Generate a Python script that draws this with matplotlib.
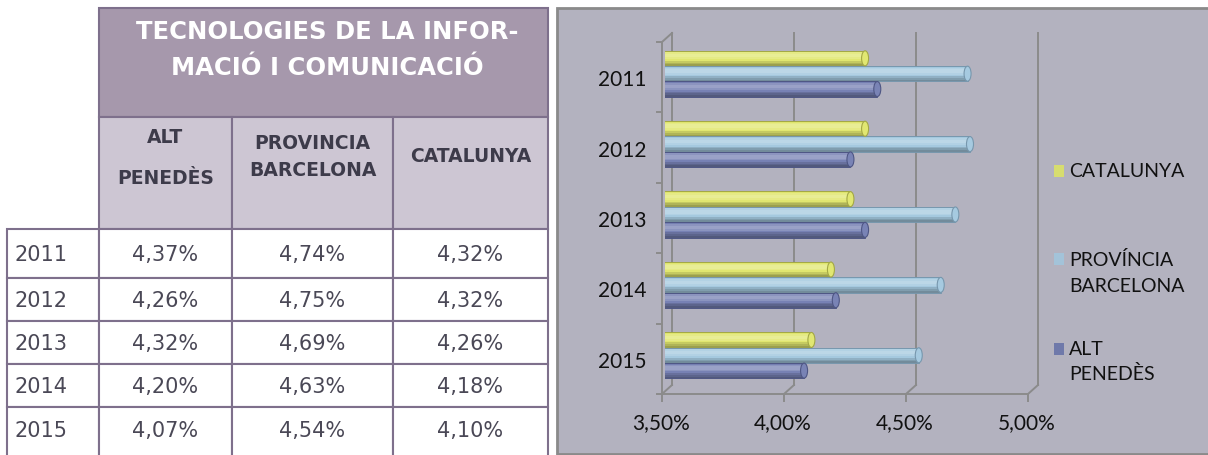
import matplotlib
matplotlib.use('Agg')
import matplotlib.pyplot as plt
from matplotlib.patches import Rectangle, Ellipse
from matplotlib.transforms import ScaledTranslation
import matplotlib.colors as mcolors
import numpy as np

# ---------------- data ----------------
years = ['2011', '2012', '2013', '2014', '2015']
alt_penedes = [4.37, 4.26, 4.32, 4.20, 4.07]
provincia_bcn = [4.74, 4.75, 4.69, 4.63, 4.54]
catalunya = [4.32, 4.32, 4.26, 4.18, 4.10]

table_title = 'TECNOLOGIES DE LA INFOR-\nMACIÓ I COMUNICACIÓ'
table_cols = ['ALT\nPENEDÈS', 'PROVINCIA\nBARCELONA', 'CATALUNYA']
legend_labels = ['CATALUNYA', 'PROVÍNCIA\nBARCELONA', 'ALT\nPENEDÈS']
x_ticks = [3.5, 4.0, 4.5, 5.0]

# ---------------- figure ----------------
W, H = 1208, 456
fig = plt.figure(figsize=(W / 100, H / 100), dpi=100)
bg = fig.add_axes([0, 0, 1, 1])
bg.set_xlim(0, W)
bg.set_ylim(H, 0)
bg.axis('off')


def px_axes(l, t, r, b):
    return fig.add_axes([l / W, 1 - b / H, (r - l) / W, (b - t) / H])


# ---------------- table ----------------
hdr_col = '#a698ac'
sub_col = '#cdc6d3'
bord = '#7e708c'
tlw = 1.5
txt_dark = '#3d3b4a'
txt_data = '#4a4856'

bg.add_patch(Rectangle((99, 9), 449, 109, fc=hdr_col, ec=bord, lw=tlw, zorder=1))
for line, yy in zip(table_title.split('\n'), [32, 68]):
    bg.text(327, yy, line, ha='center', va='center', color='white',
            fontsize=17.5, fontweight='bold', family='DejaVu Sans', zorder=3)

col_x = [99, 232, 393, 548]
sub_top, sub_bot = 118, 230
sub_line_y = [[138, 179], [144, 171], [157]]
for i, lab in enumerate(table_cols):
    x0, x1 = col_x[i], col_x[i + 1]
    bg.add_patch(Rectangle((x0, sub_top), x1 - x0, sub_bot - sub_top,
                           fc=sub_col, ec=bord, lw=tlw, zorder=1))
    for line, yy in zip(lab.split('\n'), sub_line_y[i]):
        bg.text((x0 + x1) / 2, yy, line, ha='center', va='center', color=txt_dark,
                fontsize=13.5, fontweight='bold', family='DejaVu Sans', zorder=3)

row_y = [230, 279, 322, 365, 408, 462]
all_x = [7] + col_x
series_tab = [alt_penedes, provincia_bcn, catalunya]
for r, yr in enumerate(years):
    y0, y1 = row_y[r], row_y[r + 1]
    for c in range(4):
        x0, x1 = all_x[c], all_x[c + 1]
        bg.add_patch(Rectangle((x0, y0), x1 - x0, y1 - y0, fc='white', ec=bord,
                               lw=tlw, zorder=1))
    yc = (y0 + min(y1, 452)) / 2 + 1
    bg.text(15, yc, yr, ha='left', va='center', color=txt_data, fontsize=15,
            family='DejaVu Sans', zorder=3)
    for c, ser in enumerate(series_tab):
        s = f'{ser[r]:.2f}%'.replace('.', ',')
        bg.text((col_x[c] + col_x[c + 1]) / 2, yc, s, ha='center', va='center',
                color=txt_data, fontsize=15, family='DejaVu Sans', zorder=3)

# ---------------- chart panel ----------------
bg.add_patch(Rectangle((557, 9), 660, 446, fc='#b3b2bf', ec='#8a8a8a', lw=2, zorder=1))

ax = px_axes(665, 43, 1031, 395)
ax.patch.set_alpha(0)
ax.set_xlim(3.5, 5.0)
ax.set_ylim(4.5, -0.5)
for sp in ax.spines.values():
    sp.set_visible(False)

grid_c = '#8b8b8b'
glw = 1.4
px_x = 366 / 1.5   # pixels per x unit
px_y = 352 / 5.0   # pixels per category
bdx, bdy = 7 / px_x, -9 / px_y     # back-plane offset
fdx = -3 / px_x                    # front-plane offset

# back gridlines + floor slants
for t in x_ticks:
    ax.plot([t + bdx, t + bdx], [-0.5 + bdy, 4.5 + bdy], color=grid_c, lw=glw,
            clip_on=False, zorder=1)
    ax.plot([t + bdx, t + fdx], [4.5 + bdy, 4.5], color=grid_c, lw=glw,
            clip_on=False, zorder=1)
    ax.plot([t + fdx, t + fdx], [4.5, 4.5 + 7 / px_y], color=grid_c, lw=glw,
            clip_on=False, zorder=1)
# front left wall and floor
ax.plot([3.5 + fdx, 3.5 + fdx], [-0.5, 4.5], color=grid_c, lw=glw, clip_on=False, zorder=1)
ax.plot([3.5 + fdx, 3.5 + bdx], [-0.5, -0.5 + bdy], color=grid_c, lw=glw, clip_on=False, zorder=1)
ax.plot([3.5 + fdx, 5.0 + fdx], [4.5, 4.5], color=grid_c, lw=glw, clip_on=False, zorder=1)
for k in range(6):
    ax.plot([3.5 + fdx - 5 / px_x, 3.5 + fdx], [k - 0.5, k - 0.5], color=grid_c,
            lw=glw, clip_on=False, zorder=1)

# bars (cylinders)
bar_series = [catalunya, provincia_bcn, alt_penedes]
bar_colors = ['#e0e66f', '#a4c9df', '#7680b3']
edge_colors = ['#a3a845', '#7797ad', '#4e5684']
h = 0.218
shift = -0.05
offsets = [-h + shift, shift, h + shift]
ypos = np.arange(len(years))


def shade(col, t):
    rgb = np.array(mcolors.to_rgb(col))
    a = 0.28 * np.exp(-((t - 0.33) / 0.22) ** 2) - 0.35 * max(0, t - 0.55) / 0.45 \
        - 0.12 * max(0, 0.12 - t) / 0.12
    if a >= 0:
        return tuple(rgb + (1 - rgb) * a)
    return tuple(rgb * (1 + a))


K = 9
for s, vals in enumerate(bar_series):
    yc = ypos + offsets[s]
    for k in range(K):
        t = (k + 0.5) / K
        ax.barh(yc - h / 2 + (k + 0.5) * h / K, vals, height=h / K * 1.02,
                color=shade(bar_colors[s], t), lw=0, zorder=3)
    ax.barh(yc, vals, height=h, fill=False, edgecolor=edge_colors[s], lw=0.7, zorder=4)
    for v, y in zip(vals, yc):
        ax.add_patch(Ellipse((v, y), width=7 / px_x, height=h * 0.98,
                             fc=shade(bar_colors[s], 0.6), ec=edge_colors[s],
                             lw=0.8, zorder=5))

ax.set_yticks(ypos)
ax.set_yticklabels(years)
ax.set_xticks(x_ticks)
ax.set_xticklabels([f'{t:.2f}%'.replace('.', ',') for t in x_ticks])
ax.tick_params(axis='y', length=0, pad=13, labelsize=15, labelcolor='#111111')
ax.tick_params(axis='x', length=0, pad=13, labelsize=15, labelcolor='#111111')
for lab in ax.get_xticklabels() + ax.get_yticklabels():
    lab.set_family('Lato')
for lab in ax.get_xticklabels():
    lab.set_transform(lab.get_transform() + ScaledTranslation(-4 / 100, 0, fig.dpi_scale_trans))

# legend (manual)
leg_cols = ['#d7dd6f', '#a3c3d9', '#6f79aa']
leg_line_y = [[172], [260, 287], [350, 374]]
for lab, c, ys in zip(legend_labels, leg_cols, leg_line_y):
    bg.add_patch(Rectangle((1054, ys[0] - 6), 10, 12, fc=c, ec='none', zorder=3))
    for line, yy in zip(lab.split('\n'), ys):
        bg.text(1069, yy, line, ha='left', va='center', color='#111111', fontsize=14,
                family='Lato', zorder=3)

fig.savefig('out.png', dpi=100)
